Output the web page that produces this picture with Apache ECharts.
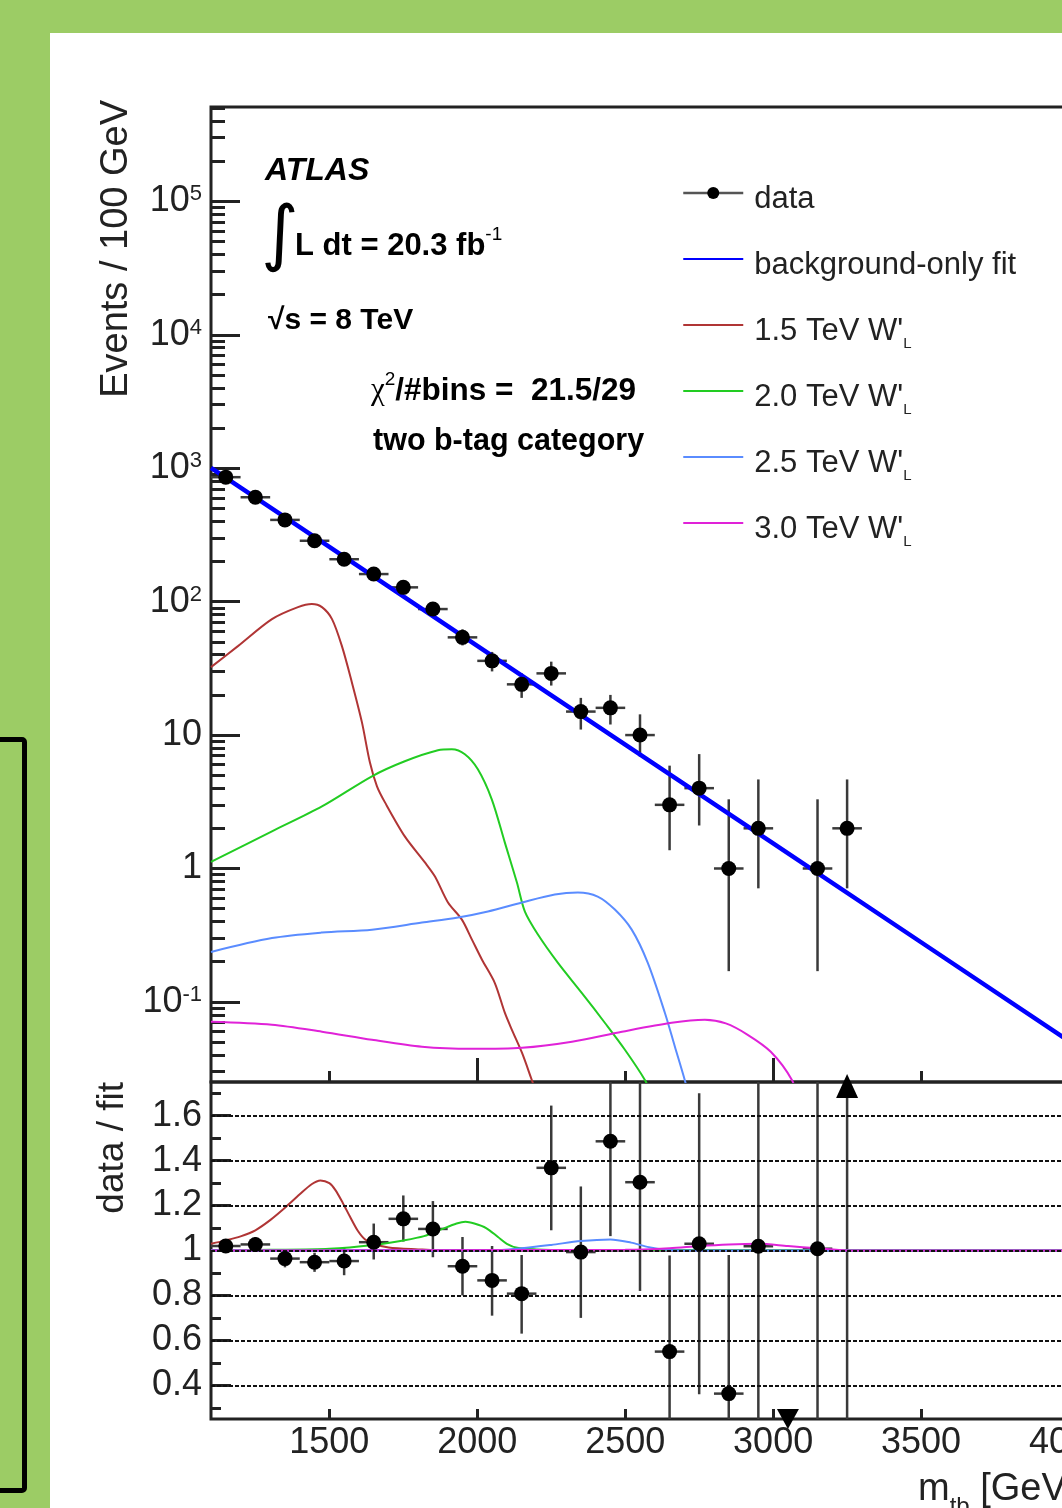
<!DOCTYPE html>
<html>
<head>
<meta charset="utf-8">
<title>m_tb spectrum, two b-tag category</title>
<script src="https://cdn.jsdelivr.net/npm/echarts@6/dist/echarts.min.js"></script>
<style>
html, body { margin: 0; padding: 0; width: 1062px; height: 1508px; overflow: hidden; background: #9ccc65; }
#box { position: absolute; left: -12px; top: 737px; width: 29px; height: 746px; border: 5px solid #000; border-radius: 5px; }
#panel { position: absolute; left: 50px; top: 33px; width: 1150px; height: 1600px; background: #fff; }
#main { position: absolute; left: 0; top: 0; width: 1200px; height: 1600px; }
</style>
</head>
<body>
<div id="box"></div>
<div id="panel"></div>
<div id="main"></div>
<script>
// bin centres (GeV) and event counts, upper pad
const massBins = [1150, 1250, 1350, 1450, 1550, 1650, 1750, 1850, 1950, 2050, 2150, 2250, 2350, 2450, 2550, 2650, 2750, 2850, 2950, 3150, 3250];
const events = [857, 606, 410, 286, 208, 161, 128, 88, 54, 36, 24, 29, 15, 16, 10, 3, 4, 1, 2, 1, 2];
const eventsLow = [828, 581, 390, 269, 194, 148, 117, 78, 47, 30, 19, 23.5, 11, 12, 6.9, 1.37, 2.1, 0.17, 0.71, 0.17, 0.71];
const eventsHigh = [886, 631, 430, 303, 223, 174, 140, 98, 62, 42, 29, 35.5, 19, 20, 14.3, 5.9, 7.2, 3.3, 4.65, 3.3, 4.65];
const binHalfWidth = 50;

// background-only fit
const fitX = [1100, 1500, 2000, 2500, 3000, 3500, 4000];
const fitY = [1005, 257, 46.6, 8.47, 1.54, 0.280, 0.0509];

// signal shapes (events / 100 GeV)
const w15X = [1100, 1191, 1306, 1394, 1441, 1475, 1509, 1543, 1576, 1610, 1637, 1661, 1688, 1755, 1823, 1857, 1901, 1948, 1982, 2016, 2059, 2093, 2117, 2151, 2184, 2210];
const w15Y = [32.3, 46.4, 74, 91, 96, 91, 74, 46, 24.9, 12.5, 6.25, 4.13, 3.13, 1.74, 1.11, 0.871, 0.556, 0.414, 0.293, 0.207, 0.139, 0.083, 0.0618, 0.0416, 0.0261, 0.018];
const w20X = [1100, 1306, 1475, 1644, 1755, 1867, 1914, 1958, 2002, 2049, 2093, 2134, 2161, 2205, 2272, 2353, 2431, 2499, 2566, 2600];
const w20Y = [1.12, 1.90, 2.92, 4.91, 6.36, 7.69, 7.82, 7.18, 5.54, 3.30, 1.57, 0.785, 0.475, 0.32, 0.197, 0.117, 0.0698, 0.0438, 0.0261, 0.018];
const w25X = [1100, 1306, 1475, 1644, 1813, 1935, 2036, 2151, 2262, 2340, 2407, 2465, 2522, 2576, 2634, 2668, 2701, 2720];
const w25Y = [0.237, 0.301, 0.331, 0.348, 0.393, 0.429, 0.476, 0.556, 0.638, 0.661, 0.616, 0.492, 0.348, 0.197, 0.083, 0.0461, 0.0261, 0.018];
const w30X = [1100, 1306, 1475, 1644, 1813, 1982, 2151, 2320, 2489, 2657, 2769, 2840, 2914, 2992, 3063, 3085];
const w30Y = [0.071, 0.0675, 0.0598, 0.052, 0.0461, 0.0445, 0.0453, 0.0503, 0.0598, 0.0698, 0.0735, 0.069, 0.0567, 0.0423, 0.0261, 0.018];

// data / fit, lower pad
const ratioBins = [1150, 1250, 1350, 1450, 1550, 1650, 1750, 1850, 1950, 2050, 2150, 2250, 2350, 2450, 2550, 2650, 2750, 2850, 2950, 3150];
const ratio = [1.020, 1.027, 0.964, 0.948, 0.953, 1.037, 1.141, 1.096, 0.930, 0.867, 0.808, 1.368, 0.993, 1.486, 1.304, 0.550, 1.030, 0.363, 1.019, 1.008];
const ratioLow = [0.99, 0.995, 0.925, 0.905, 0.89, 0.96, 1.04, 0.97, 0.80, 0.71, 0.63, 1.09, 0.70, 1.064, 0.82, 0.15, 0.36, 0.10, 0.10, 0.10];
const ratioHigh = [1.05, 1.06, 1.0, 0.99, 1.015, 1.12, 1.245, 1.22, 1.06, 1.02, 0.98, 1.645, 1.285, 1.95, 1.78, 0.978, 1.70, 0.98, 2.4, 3.0];
// out-of-range bins drawn as arrows on the frame
const arrowUp = [[3250, 1.75]];
const arrowDown = [[3050, 0.25]];
const arrowUpLow = [0.10];
const arrowUpHigh = [3.0];

// (signal + background) / background
const fitRatioX = [1100, 4000];
const fitRatioY = [1, 1];
const r15X = [1100, 1150, 1200, 1250, 1300, 1350, 1400, 1440, 1470, 1500, 1520, 1545, 1570, 1595, 1620, 1650, 1700, 1800, 1900, 4000];
const r15Y = [1.030, 1.045, 1.063, 1.09, 1.135, 1.19, 1.25, 1.295, 1.312, 1.30, 1.27, 1.213, 1.15, 1.09, 1.05, 1.03, 1.013, 1.005, 1.0, 1.0];
const r20X = [1100, 1300, 1500, 1650, 1750, 1820, 1880, 1930, 1960, 1990, 2030, 2070, 2100, 2135, 2200, 2300, 4000];
const r20Y = [1.0, 1.003, 1.008, 1.025, 1.045, 1.064, 1.095, 1.12, 1.128, 1.12, 1.10, 1.06, 1.03, 1.012, 1.005, 1.002, 1.0];
const r25X = [1100, 2050, 2150, 2250, 2350, 2450, 2520, 2580, 2650, 2700, 4000];
const r25Y = [1.0, 1.0, 1.01, 1.025, 1.042, 1.049, 1.035, 1.015, 1.002, 1.0, 1.0];
const r30X = [1100, 2500, 2650, 2750, 2850, 2950, 3050, 3150, 3250, 4000];
const r30Y = [1.0, 1.003, 1.01, 1.02, 1.027, 1.03, 1.02, 1.01, 1.0, 1.0];

// axis ticks
const massTicks = [1500, 2000, 2500, 3000, 3500, 4000];
const massTicksLong = [2000, 3000, 4000];
const massTicksShort = [1500, 2500, 3500];
const eventTicks = [0.1, 1, 10, 100, 1000, 10000, 100000];
const eventMinorTicks = [];
[0.01, 0.1, 1, 10, 100, 1000, 10000, 100000].forEach(d => {
    for (let k = 2; k <= 9; k++) eventMinorTicks.push(+(d * k).toPrecision(3));
});
const ratioTicks = [0.4, 0.6, 0.8, 1.0, 1.2, 1.4, 1.6];
const ratioMinorTicks = [0.3, 0.5, 0.7, 0.9, 1.1, 1.3, 1.5, 1.7];

const FONT = '"Liberation Sans", Arial, Helvetica, sans-serif';
const INK = '#222';

const zip = (xs, ys) => xs.map((x, i) => [x, ys[i]]);

// error bars: [x, y, low, high, halfWidth]
function errorBars(params, api) {
    const x = api.value(0), y = api.value(1), hw = api.value(4);
    const cs = params.coordSys;
    const clampY = v => Math.min(cs.y + cs.height, Math.max(cs.y, v));
    const hi = api.coord([x, api.value(3)]);
    const lo = api.coord([x, api.value(2)]);
    const style = { stroke: '#3a3a3a', lineWidth: 2.5 };
    const children = [{ type: 'line', shape: { x1: hi[0], y1: clampY(hi[1]), x2: lo[0], y2: clampY(lo[1]) }, style }];
    if (hw > 0) {
        const l = api.coord([x - hw, y]);
        const r = api.coord([x + hw, y]);
        children.push({ type: 'line', shape: { x1: l[0], y1: l[1], x2: r[0], y2: r[1] }, style });
    }
    return { type: 'group', children };
}

function logLabel(v) {
    const e = Math.round(Math.log10(v));
    if (e === 0) return '1';
    if (e === 1) return '10';
    return '{b|10}{s|' + e + '}';
}

const legendText = {
    'data': '{t|data}{sub| }',
    'background-only fit': '{t|background-only fit}{sub| }',
    "1.5 TeV W'L": "{t|1.5 TeV W'}{sub|L}",
    "2.0 TeV W'L": "{t|2.0 TeV W'}{sub|L}",
    "2.5 TeV W'L": "{t|2.5 TeV W'}{sub|L}",
    "3.0 TeV W'L": "{t|3.0 TeV W'}{sub|L}"
};

const hideSymbol = { opacity: 0 };

const chart = echarts.init(document.getElementById('main'));
const option = {
    animation: false,
    backgroundColor: 'transparent',
    textStyle: { fontFamily: FONT },
    grid: [
        { left: 211, top: 107, width: 858, height: 975, show: true, borderColor: INK, borderWidth: 3 },
        { left: 211, top: 1082, width: 858, height: 337, show: true, borderColor: INK, borderWidth: 3 }
    ],
    legend: {
        orient: 'vertical',
        left: 682,
        top: 180,
        padding: 0,
        itemWidth: 60,
        itemHeight: 15,
        itemGap: 27,
        selectedMode: false,
        formatter: name => legendText[name],
        textStyle: {
            color: INK,
            fontFamily: FONT,
            fontSize: 31,
            padding: [12, 0, 0, 6],
            rich: {
                t: { fontSize: 31, fontFamily: FONT, color: INK, lineHeight: 38, verticalAlign: 'top', padding: [4, 0, 0, 0] },
                sub: { fontSize: 15, fontFamily: FONT, color: INK, lineHeight: 15, verticalAlign: 'top', padding: [24, 0, 0, 0] }
            }
        },
        data: [
            { name: 'data', lineStyle: { color: '#555', width: 2.5, opacity: 1 }, itemStyle: { color: '#000', opacity: 1 } },
            { name: 'background-only fit', itemStyle: hideSymbol },
            { name: "1.5 TeV W'L", itemStyle: hideSymbol },
            { name: "2.0 TeV W'L", itemStyle: hideSymbol },
            { name: "2.5 TeV W'L", itemStyle: hideSymbol },
            { name: "3.0 TeV W'L", itemStyle: hideSymbol }
        ]
    },
    xAxis: [
        {
            gridIndex: 0, type: 'value', min: 1100, max: 4000, position: 'bottom',
            axisLine: { show: false }, axisLabel: { show: false }, splitLine: { show: false },
            axisTick: { inside: true, length: 24, lineStyle: { color: INK, width: 3 }, customValues: massTicksLong }
        },
        {
            gridIndex: 1, type: 'value', min: 1100, max: 4000, position: 'bottom',
            axisLine: { show: false }, splitLine: { show: false },
            axisLabel: { fontSize: 36, color: INK, margin: 6, customValues: massTicks, formatter: v => String(v) },
            axisTick: { inside: true, length: 10, lineStyle: { color: INK, width: 3 }, customValues: massTicks }
        },
        {
            gridIndex: 0, type: 'value', min: 1100, max: 4000, position: 'bottom',
            axisLine: { show: false }, axisLabel: { show: false }, splitLine: { show: false },
            axisTick: { inside: true, length: 11, lineStyle: { color: INK, width: 3 }, customValues: massTicksShort }
        }
    ],
    yAxis: [
        {
            gridIndex: 0, type: 'log', logBase: 10, min: 0.0251, max: 510000, position: 'left',
            axisLine: { show: false }, splitLine: { show: false },
            axisTick: { inside: true, length: 29, lineStyle: { color: INK, width: 3 }, customValues: eventTicks },
            axisLabel: {
                margin: 9, fontSize: 36, color: INK, customValues: eventTicks,
                formatter: logLabel,
                rich: {
                    b: { fontSize: 36, fontFamily: FONT, color: INK, lineHeight: 36 },
                    s: { fontSize: 22, fontFamily: FONT, color: INK, lineHeight: 22, verticalAlign: 'top' }
                }
            }
        },
        {
            gridIndex: 1, type: 'value', min: 0.25, max: 1.75, position: 'left',
            axisLine: { show: false }, splitLine: { show: false },
            axisTick: { inside: true, length: 20, lineStyle: { color: INK, width: 3 }, customValues: ratioTicks },
            axisLabel: {
                margin: 9, fontSize: 36, color: INK, customValues: ratioTicks,
                formatter: v => (Math.abs(v - 1) < 1e-6 ? '1' : v.toFixed(1))
            }
        },
        {
            gridIndex: 0, type: 'log', logBase: 10, min: 0.0251, max: 510000, position: 'left',
            axisLine: { show: false }, splitLine: { show: false }, axisLabel: { show: false },
            axisTick: { inside: true, length: 14, lineStyle: { color: INK, width: 3 }, customValues: eventMinorTicks }
        },
        {
            gridIndex: 1, type: 'value', min: 0.25, max: 1.75, position: 'left',
            axisLine: { show: false }, splitLine: { show: false }, axisLabel: { show: false },
            axisTick: { inside: true, length: 10, lineStyle: { color: INK, width: 3 }, customValues: ratioMinorTicks }
        }
    ],
    series: [
        // upper pad
        { name: "1.5 TeV W'L", type: 'line', xAxisIndex: 0, yAxisIndex: 0, data: zip(w15X, w15Y), smooth: 0.3, symbol: 'none', lineStyle: { color: '#b03535', width: 2 }, itemStyle: { color: '#b03535' } },
        { name: "2.0 TeV W'L", type: 'line', xAxisIndex: 0, yAxisIndex: 0, data: zip(w20X, w20Y), smooth: 0.3, symbol: 'none', lineStyle: { color: '#22cc22', width: 2 }, itemStyle: { color: '#22cc22' } },
        { name: "2.5 TeV W'L", type: 'line', xAxisIndex: 0, yAxisIndex: 0, data: zip(w25X, w25Y), smooth: 0.3, symbol: 'none', lineStyle: { color: '#5a8cff', width: 2 }, itemStyle: { color: '#5a8cff' } },
        { name: "3.0 TeV W'L", type: 'line', xAxisIndex: 0, yAxisIndex: 0, data: zip(w30X, w30Y), smooth: 0.3, symbol: 'none', lineStyle: { color: '#e022d8', width: 2 }, itemStyle: { color: '#e022d8' } },
        { name: 'background-only fit', type: 'line', xAxisIndex: 0, yAxisIndex: 0, data: zip(fitX, fitY), symbol: 'none', lineStyle: { color: '#0000ff', width: 4.5 }, itemStyle: { color: '#0000ff' } },
        {
            type: 'custom', xAxisIndex: 0, yAxisIndex: 0, renderItem: errorBars, encode: { x: 0, y: 1 }, silent: true,
            data: massBins.map((m, i) => [m, events[i], eventsLow[i], eventsHigh[i], binHalfWidth])
        },
        {
            name: 'data', type: 'line', xAxisIndex: 0, yAxisIndex: 0, data: zip(massBins, events),
            symbol: 'circle', symbolSize: 15, showAllSymbol: true, lineStyle: { opacity: 0 }, itemStyle: { color: '#000', opacity: 1 }, z: 5
        },
        // lower pad
        {
            type: 'line', xAxisIndex: 1, yAxisIndex: 1, data: [], silent: true,
            markLine: {
                silent: true, symbol: 'none', label: { show: false },
                lineStyle: { color: '#111', width: 2, type: [4, 2] },
                data: ratioTicks.map(v => ({ yAxis: v }))
            }
        },
        { type: 'line', xAxisIndex: 1, yAxisIndex: 1, data: zip(fitRatioX, fitRatioY), symbol: 'none', lineStyle: { color: '#0000ff', width: 2 } },
        { type: 'line', xAxisIndex: 1, yAxisIndex: 1, data: zip(r15X, r15Y), smooth: 0.3, symbol: 'none', lineStyle: { color: '#b03535', width: 2 } },
        { type: 'line', xAxisIndex: 1, yAxisIndex: 1, data: zip(r20X, r20Y), smooth: 0.3, symbol: 'none', lineStyle: { color: '#22cc22', width: 2 } },
        { type: 'line', xAxisIndex: 1, yAxisIndex: 1, data: zip(r25X, r25Y), smooth: 0.3, symbol: 'none', lineStyle: { color: '#5a8cff', width: 2 } },
        { type: 'line', xAxisIndex: 1, yAxisIndex: 1, data: zip(r30X, r30Y), smooth: 0.3, symbol: 'none', lineStyle: { color: '#e022d8', width: 2 } },
        {
            type: 'custom', xAxisIndex: 1, yAxisIndex: 1, renderItem: errorBars, encode: { x: 0, y: 1 }, silent: true,
            data: ratioBins.map((m, i) => [m, ratio[i], ratioLow[i], ratioHigh[i], binHalfWidth])
                .concat(arrowUp.map((p, i) => [p[0], p[1], arrowUpLow[i], arrowUpHigh[i], 0]))
        },
        { type: 'scatter', xAxisIndex: 1, yAxisIndex: 1, data: zip(ratioBins, ratio), symbol: 'circle', symbolSize: 15, itemStyle: { color: '#000', opacity: 1 }, z: 5 },
        { type: 'scatter', xAxisIndex: 1, yAxisIndex: 1, data: arrowUp, symbol: 'triangle', symbolSize: [22, 24], symbolOffset: [0, 4], clip: false, itemStyle: { color: '#000', opacity: 1 }, z: 6 },
        { type: 'scatter', xAxisIndex: 1, yAxisIndex: 1, data: arrowDown, symbol: 'triangle', symbolRotate: 180, symbolSize: [22, 20], clip: false, itemStyle: { color: '#000', opacity: 1 }, z: 6 }
    ],
    graphic: [
        {
            type: 'text', x: 117, y: 100, rotation: Math.PI / 2,
            style: { text: 'Events / 100 GeV', fill: INK, font: '38px ' + FONT, align: 'right', verticalAlign: 'middle', textAlign: 'right', textVerticalAlign: 'middle' }
        },
        {
            type: 'text', x: 113, y: 1082, rotation: Math.PI / 2,
            style: { text: 'data / fit', fill: INK, font: '37px ' + FONT, align: 'right', verticalAlign: 'middle', textAlign: 'right', textVerticalAlign: 'middle' }
        },
        {
            type: 'text', x: 918, y: 1471,
            style: {
                text: '{m|m}{s|tb}{m| [GeV]}', fill: INK, align: 'left', verticalAlign: 'top', textAlign: 'left', textVerticalAlign: 'top',
                rich: {
                    m: { fontSize: 38, fontFamily: FONT, fill: INK, lineHeight: 38, verticalAlign: 'top' },
                    s: { fontSize: 24, fontFamily: FONT, fill: INK, lineHeight: 24, verticalAlign: 'top', padding: [24, 0, 0, 0] }
                }
            }
        },
        {
            type: 'text', x: 265, y: 171,
            style: { text: 'ATLAS', fill: '#000', font: 'italic bold 32px ' + FONT, align: 'left', verticalAlign: 'middle', textAlign: 'left', textVerticalAlign: 'middle' }
        },
        {
            type: 'text', x: 261, y: 238,
            style: { text: '\u222B', fill: '#000', font: '72px "DejaVu Sans", sans-serif', align: 'left', verticalAlign: 'middle', textAlign: 'left', textVerticalAlign: 'middle' }
        },
        {
            type: 'text', x: 295, y: 241,
            style: {
                text: '{m|L dt = 20.3 fb}{s|-1}', fill: '#000', align: 'left', verticalAlign: 'middle', textAlign: 'left', textVerticalAlign: 'middle',
                rich: {
                    m: { fontSize: 31, fontWeight: 'bold', fontFamily: FONT, fill: '#000', lineHeight: 31, verticalAlign: 'top', padding: [5, 0, 0, 0] },
                    s: { fontSize: 19, fontFamily: FONT, fill: '#000', lineHeight: 19, verticalAlign: 'top' }
                }
            }
        },
        {
            type: 'text', x: 268, y: 321,
            style: { text: '\u221As = 8 TeV', fill: '#000', font: 'bold 30px ' + FONT, align: 'left', verticalAlign: 'middle', textAlign: 'left', textVerticalAlign: 'middle' }
        },
        {
            type: 'text', x: 371, y: 386,
            style: {
                text: '{c|\u03C7}{s|2}{m|/#bins =  21.5/29}', fill: '#000', align: 'left', verticalAlign: 'middle', textAlign: 'left', textVerticalAlign: 'middle',
                rich: {
                    c: { fontSize: 31, fontFamily: '"Liberation Serif", serif', fill: '#000', lineHeight: 31, verticalAlign: 'top', padding: [5, 0, 0, 0] },
                    s: { fontSize: 19, fontFamily: FONT, fill: '#000', lineHeight: 19, verticalAlign: 'top' },
                    m: { fontSize: 31.5, fontWeight: 'bold', fontFamily: FONT, fill: '#000', lineHeight: 31, verticalAlign: 'top', padding: [5, 0, 0, 0] }
                }
            }
        },
        {
            type: 'text', x: 373, y: 442,
            style: { text: 'two b-tag category', fill: '#000', font: 'bold 30.5px ' + FONT, align: 'left', verticalAlign: 'middle', textAlign: 'left', textVerticalAlign: 'middle' }
        }
    ]
};
chart.setOption(option);
</script>
</body>
</html>
